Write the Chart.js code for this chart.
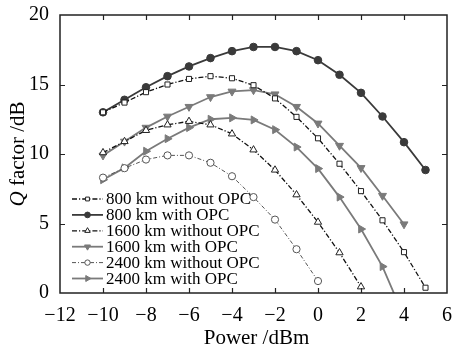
<!DOCTYPE html>
<html>
<head>
<meta charset="utf-8">
<script src="https://cdn.jsdelivr.net/npm/chart.js@4/dist/chart.umd.min.js"></script>
<style>
  html, body { margin: 0; padding: 0; background: #fff; }
  #wrap { width: 455px; height: 348px; }
</style>
</head>
<body>
<div id="wrap"><canvas id="qChart"></canvas></div>
<script>
// launch power sweep (dBm)
const power = [-10, -9, -8, -7, -6, -5, -4, -3, -2, -1, 0, 1, 2, 3, 4, 5];

// Q factor (dB) per transmission distance
const q800NoOpc = [13.0, 13.7, 14.45, 15.0, 15.4, 15.6, 15.45, 14.95, 14.0, 12.67, 11.13, 9.3, 7.33, 5.23, 2.94, 0.38];
const q800Opc = [13.0, 13.9, 14.8, 15.6, 16.3, 16.9, 17.4, 17.7, 17.7, 17.4, 16.75, 15.7, 14.4, 12.7, 10.85, 8.85];
const q1600NoOpc = [10.1, 10.9, 11.7, 12.1, 12.35, 12.1, 11.45, 10.3, 8.85, 7.07, 5.1, 2.9, 0.45];
const q1600Opc = [9.9, 10.9, 11.9, 12.7, 13.4, 14.1, 14.5, 14.6, 14.3, 13.4, 12.2, 10.6, 9.0, 7.0, 4.95];
const q2400NoOpc = [8.3, 8.98, 9.6, 9.9, 9.9, 9.37, 8.4, 6.9, 5.28, 3.15, 0.86];
const q2400Opc = [8.15, 9.0, 10.2, 11.1, 11.9, 12.5, 12.6, 12.45, 11.75, 10.5, 8.95, 6.9, 4.6, 1.9, -1.7];

const seriesNames = [
    '800 km without OPC', '800 km with OPC',
    '1600 km without OPC', '1600 km with OPC',
    '2400 km without OPC', '2400 km with OPC'
];

const xTicks = [-12, -10, -8, -6, -4, -2, 0, 2, 4, 6];
const yTicks = [0, 5, 10, 15, 20];

const SERIF = '"Liberation Serif", "Times New Roman", serif';

function pts(vals) {
    return vals.map((v, i) => ({ x: power[i], y: v }));
}

function series(label, vals, style) {
    return Object.assign({
        label: label,
        data: pts(vals),
        tension: 0,
        fill: false,
        pointHoverRadius: 4
    }, style);
}

const dashDot = [5, 2, 1.2, 2];

const datasets = [
    series(seriesNames[0], q800NoOpc, {
        borderColor: '#111', borderWidth: 1.3, borderDash: dashDot,
        pointStyle: 'rect', pointRadius: 3.6, pointBorderWidth: 1,
        pointBackgroundColor: '#fff', pointBorderColor: '#222'
    }),
    series(seriesNames[1], q800Opc, {
        borderColor: '#3a3a3a', borderWidth: 1.8,
        pointStyle: 'circle', pointRadius: 3.8, pointBorderWidth: 1,
        pointBackgroundColor: '#3a3a3a', pointBorderColor: '#3a3a3a'
    }),
    series(seriesNames[2], q1600NoOpc, {
        borderColor: '#111', borderWidth: 1.3, borderDash: dashDot,
        pointStyle: 'triangle', pointRadius: 4.2, pointBorderWidth: 1,
        pointBackgroundColor: '#fff', pointBorderColor: '#222'
    }),
    series(seriesNames[3], q1600Opc, {
        borderColor: '#7a7a7a', borderWidth: 1.8,
        pointStyle: 'triangle', pointRotation: 180, pointRadius: 4.6, pointBorderWidth: 1,
        pointBackgroundColor: '#7a7a7a', pointBorderColor: '#7a7a7a'
    }),
    series(seriesNames[4], q2400NoOpc, {
        borderColor: '#555', borderWidth: 1, borderDash: [4, 2, 1, 2],
        pointStyle: 'circle', pointRadius: 3.6, pointBorderWidth: 1,
        pointBackgroundColor: '#fff', pointBorderColor: '#555'
    }),
    series(seriesNames[5], q2400Opc, {
        borderColor: '#7a7a7a', borderWidth: 1.8,
        pointStyle: 'triangle', pointRotation: 90, pointRadius: 4.6, pointBorderWidth: 1,
        pointBackgroundColor: '#7a7a7a', pointBorderColor: '#7a7a7a'
    })
];

// frame, inward ticks, axis titles and the in-plot legend
const framePlugin = {
    id: 'frame',
    afterDraw(chart) {
        const ctx = chart.ctx;
        const a = chart.chartArea;
        const xs = chart.scales.x, ys = chart.scales.y;
        ctx.save();
        ctx.strokeStyle = '#222';
        ctx.lineWidth = 1.5;
        ctx.strokeRect(a.left, a.top, a.right - a.left, a.bottom - a.top);
        ctx.lineWidth = 1.2;
        ctx.beginPath();
        xTicks.forEach(v => {
            const px = Math.round(xs.getPixelForValue(v)) + 0.5;
            if (v === xTicks[0] || v === xTicks[xTicks.length - 1]) return;
            ctx.moveTo(px, a.bottom); ctx.lineTo(px, a.bottom - 5);
            ctx.moveTo(px, a.top); ctx.lineTo(px, a.top + 5);
        });
        yTicks.forEach(v => {
            const py = Math.round(ys.getPixelForValue(v)) + 0.5;
            if (v === yTicks[0] || v === yTicks[yTicks.length - 1]) return;
            ctx.moveTo(a.left, py); ctx.lineTo(a.left + 5, py);
            ctx.moveTo(a.right, py); ctx.lineTo(a.right - 5, py);
        });
        ctx.stroke();

        // axis titles
        ctx.fillStyle = '#000';
        ctx.textBaseline = 'middle';
        ctx.textAlign = 'center';
        ctx.font = '21px ' + SERIF;
        ctx.fillText('Power /dBm', (a.left + a.right) / 2 + 3, a.bottom + 45);

        ctx.translate(18, (a.top + a.bottom) / 2);
        ctx.rotate(-Math.PI / 2);
        const italicQ = 'italic 21px ' + SERIF;
        const normal = '21px ' + SERIF;
        ctx.font = italicQ;
        const wQ = ctx.measureText('Q').width;
        ctx.font = normal;
        const rest = ' factor /dB';
        const wR = ctx.measureText(rest).width;
        const start = -(wQ + wR) / 2;
        ctx.textAlign = 'left';
        ctx.font = italicQ;
        ctx.fillText('Q', start, 0);
        ctx.font = normal;
        ctx.fillText(rest, start + wQ, 0);
        ctx.restore();

        // legend
        ctx.save();
        ctx.font = '17px ' + SERIF;
        ctx.textBaseline = 'middle';
        ctx.textAlign = 'left';
        const x0 = a.left + 12, x1 = a.left + 43, xm = (x0 + x1) / 2;
        const rowTop = a.top + 184, rowGap = 15.9;
        chart.data.datasets.forEach((ds, i) => {
            const y = rowTop + i * rowGap;
            ctx.strokeStyle = ds.borderColor;
            ctx.lineWidth = ds.borderWidth;
            ctx.setLineDash(ds.borderDash || []);
            ctx.beginPath();
            ctx.moveTo(x0, y); ctx.lineTo(x1, y);
            ctx.stroke();
            ctx.setLineDash([]);
            ctx.fillStyle = ds.pointBackgroundColor;
            ctx.strokeStyle = ds.pointBorderColor;
            ctx.lineWidth = 1;
            Chart.helpers.drawPoint(ctx, {
                pointStyle: ds.pointStyle,
                rotation: ds.pointRotation || 0,
                radius: ds.pointRadius * 0.75,
                borderWidth: 1
            }, xm, y);
            ctx.fillStyle = '#000';
            ctx.fillText(ds.label, x1 + 3, y + 1);
        });
        ctx.restore();
    }
};

const chartOptions = {
    responsive: true,
    maintainAspectRatio: false,
    animation: false,
    layout: { padding: { left: 0, top: 14, right: 3, bottom: 0 } },
    plugins: {
        legend: { display: false },
        tooltip: { enabled: true }
    },
    scales: {
        x: {
            type: 'linear',
            min: -12,
            max: 6,
            afterFit: s => { s.height = 55; },
            afterBuildTicks: s => { s.ticks = xTicks.map(v => ({ value: v })); },
            grid: { display: false },
            border: { display: false },
            ticks: {
                color: '#000',
                padding: 3,
                font: { family: SERIF, size: 20 },
                callback: v => String(v).replace('-', '\u2212')
            }
        },
        y: {
            min: 0,
            max: 20,
            afterFit: s => { s.width = 60; },
            afterBuildTicks: s => { s.ticks = yTicks.map(v => ({ value: v })); },
            grid: { display: false },
            border: { display: false },
            ticks: {
                color: '#000',
                padding: 3,
                font: { family: SERIF, size: 20 }
            }
        }
    }
};

new Chart(document.getElementById('qChart'), {
    type: 'line',
    data: { datasets: datasets },
    options: chartOptions,
    plugins: [framePlugin]
});
</script>
</body>
</html>
